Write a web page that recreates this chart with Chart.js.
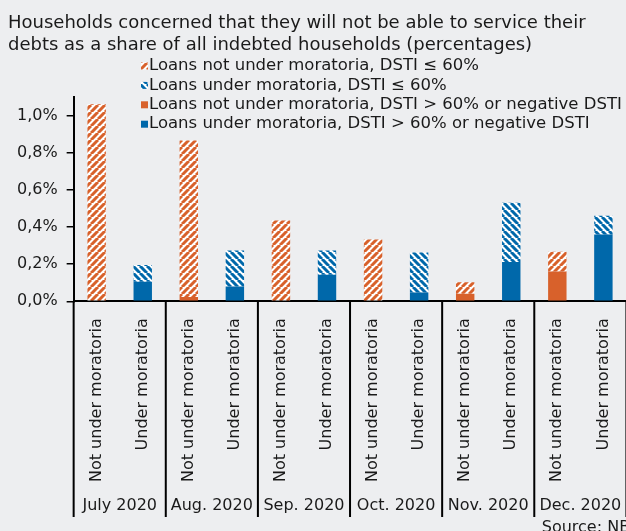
<!DOCTYPE html>
<html>
<head>
<meta charset="utf-8">
<script src="https://cdn.jsdelivr.net/npm/chart.js@4.4.1/dist/chart.umd.min.js"></script>
<style>
    html, body { margin: 0; padding: 0; background: #edeef0; overflow: hidden; }
    canvas { display: block; }
</style>
</head>
<body>
<canvas id="debtChart" width="640" height="531"></canvas>
<script>
const MONTHS = ["July 2020", "Aug. 2020", "Sep. 2020", "Oct. 2020", "Nov. 2020", "Dec. 2020"];
const GROUPS = ["Not under moratoria", "Under moratoria"];

// shares in % of all indebted households
const notMoratLowDsti = [1.06, 0.843, 0.435, 0.332, 0.061, 0.106];
const underMoratLowDsti = [0.09, 0.194, 0.131, 0.215, 0.319, 0.102];
const notMoratHighDsti = [0, 0.023, 0, 0, 0.041, 0.161];
const underMoratHighDsti = [0.105, 0.08, 0.143, 0.047, 0.211, 0.359];

const ORANGE = "#d8612b";
const BLUE = "#0068aa";
const TEXT = "#1a1a1a";
const FONT = "'DejaVu Sans', Verdana, sans-serif";

function hatch(color, dir) {
    const s = 7;
    const c = document.createElement("canvas");
    c.width = s;
    c.height = s;
    const g = c.getContext("2d");
    g.fillStyle = "#fff";
    g.fillRect(0, 0, s, s);
    g.strokeStyle = color;
    g.lineWidth = 3;
    g.beginPath();
    for (const k of [-s, 0, s]) {
        if (dir === "/") {
            g.moveTo(k, s);
            g.lineTo(k + s, 0);
        } else {
            g.moveTo(k, 0);
            g.lineTo(k + s, s);
        }
    }
    g.stroke();
    return g.createPattern(c, "repeat");
}

// one category per moratoria status per month
const labels = [];
MONTHS.forEach(() => GROUPS.forEach(g => labels.push(g)));

// spread month values onto the "not under" (even) or "under" (odd) slots
function spread(values, odd) {
    const out = [];
    values.forEach(v => {
        if (odd) out.push(null, v);
        else out.push(v, null);
    });
    return out;
}

const orangeHatch = hatch(ORANGE, "/");
const blueHatch = hatch(BLUE, "\\");

// solid parts first so they stack at the bottom
const datasets = [
    { label: "Loans not under moratoria, DSTI > 60% or negative DSTI", data: spread(notMoratHighDsti, false), backgroundColor: ORANGE },
    { label: "Loans under moratoria, DSTI > 60% or negative DSTI", data: spread(underMoratHighDsti, true), backgroundColor: BLUE },
    { label: "Loans not under moratoria, DSTI \u2264 60%", data: spread(notMoratLowDsti, false), backgroundColor: orangeHatch },
    { label: "Loans under moratoria, DSTI \u2264 60%", data: spread(underMoratLowDsti, true), backgroundColor: blueHatch },
];
const LEGEND_ORDER = [2, 3, 0, 1];

// legend, month separators, month names and source note
const extras = {
    id: "extras",
    afterDraw(chart) {
        const ctx = chart.ctx;
        const x = chart.scales.x;
        const area = chart.chartArea;
        ctx.save();

        ctx.font = "16.5px " + FONT;
        ctx.textBaseline = "middle";
        LEGEND_ORDER.forEach((di, i) => {
            const ds = chart.data.datasets[di];
            const y = 66 + i * 19.4;
            ctx.fillStyle = ds.backgroundColor;
            ctx.fillRect(141, y - 3.5, 7, 7);
            ctx.fillStyle = TEXT;
            ctx.fillText(ds.label, 149, y);
        });

        ctx.strokeStyle = "#000";
        ctx.lineWidth = 2;
        ctx.beginPath();
        for (let m = 0; m <= MONTHS.length; m++) {
            let px;
            if (m === 0) px = area.left;
            else if (m === MONTHS.length) px = area.right;
            else px = (x.getPixelForValue(2 * m - 1) + x.getPixelForValue(2 * m)) / 2;
            ctx.moveTo(px, area.bottom);
            ctx.lineTo(px, 517);
        }
        ctx.stroke();

        ctx.font = "16px " + FONT;
        ctx.textAlign = "center";
        ctx.textBaseline = "alphabetic";
        ctx.fillStyle = TEXT;
        MONTHS.forEach((m, i) => {
            const cx = (x.getPixelForValue(2 * i) + x.getPixelForValue(2 * i + 1)) / 2;
            ctx.fillText(m, cx, 510);
        });

        ctx.textAlign = "right";
        ctx.fillText("Source: NBS", chart.width, 532);
        ctx.restore();
    }
};

new Chart(document.getElementById("debtChart").getContext("2d"), {
    type: "bar",
    data: { labels: labels, datasets: datasets },
    plugins: [extras],
    options: {
        responsive: false,
        animation: false,
        layout: { padding: { left: 8, right: 10, top: 0, bottom: 32 } },
        datasets: { bar: { categoryPercentage: 1, barPercentage: 0.4 } },
        plugins: {
            legend: { display: false },
            tooltip: { enabled: false },
            title: {
                display: true,
                align: "start",
                text: [
                    "Households concerned that they will not be able to service their",
                    "debts as a share of all indebted households (percentages)"
                ],
                color: TEXT,
                font: { family: FONT, size: 18, weight: "normal", lineHeight: 1.22 },
                padding: { top: 12, bottom: 41 }
            }
        },
        scales: {
            x: {
                stacked: true,
                grid: { display: false, drawTicks: false },
                border: { color: "#000", width: 2 },
                ticks: {
                    color: TEXT,
                    font: { family: FONT, size: 16 },
                    minRotation: 90,
                    maxRotation: 90,
                    padding: 17,
                    autoSkip: false
                }
            },
            y: {
                stacked: true,
                min: 0,
                max: 1.1,
                grid: { drawOnChartArea: false, drawTicks: true, tickLength: 7, color: "#000", lineWidth: 1.5 },
                border: { color: "#000", width: 2 },
                ticks: {
                    stepSize: 0.2,
                    includeBounds: false,
                    color: TEXT,
                    padding: 9,
                    font: { family: FONT, size: 16 },
                    callback: v => v.toFixed(1).replace(".", ",") + "%"
                }
            }
        }
    }
});
</script>
</body>
</html>
